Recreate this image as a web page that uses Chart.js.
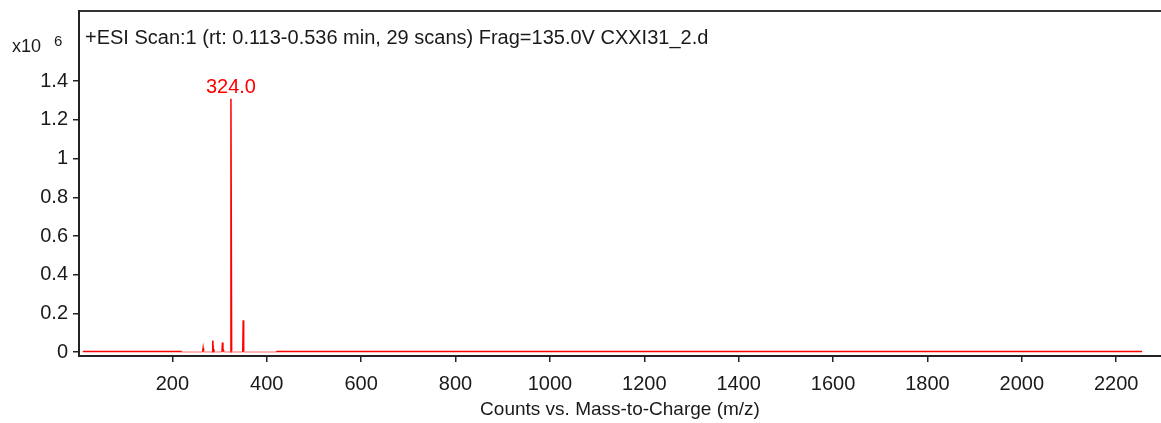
<!DOCTYPE html>
<html>
<head>
<meta charset="utf-8">
<script src="https://cdn.jsdelivr.net/npm/chart.js@4/dist/chart.umd.min.js"></script>
<style>
  html, body { margin: 0; padding: 0; background: #fff; }
  #wrap { width: 1161px; height: 423px; }
</style>
</head>
<body>
<div id="wrap"><canvas id="spectrum"></canvas></div>
<script>
// spectrum points (m/z, counts in 10^6)
const mzValues = [10, 220, 221, 264, 265, 266, 284.5, 285.5, 286.5, 288, 289, 305, 306, 307, 308.5, 309.5,
                  322.5, 324, 325.5, 349, 350, 351, 419, 420, 2255];
const counts   = [0.003, 0.003, 0.001, 0.001, 0.02, 0.001, 0.001, 0.06, 0.015, 0.01, 0.001, 0.001, 0.05, 0.015, 0.008, 0.001,
                  0.001, 1.31, 0.001, 0.001, 0.165, 0.001, 0.001, 0.003, 0.003];
const xTicks = [200, 400, 600, 800, 1000, 1200, 1400, 1600, 1800, 2000, 2200];
const yTicks = [0, 0.2, 0.4, 0.6, 0.8, 1, 1.2, 1.4];
const peakLabel = { mz: 324, counts: 1.31, text: "324.0" };
const titleText = "+ESI Scan:1 (rt: 0.113-0.536 min, 29 scans) Frag=135.0V CXXI31_2.d";
const xTitle = "Counts vs. Mass-to-Charge (m/z)";

const FONT = "'Liberation Sans', Arial, sans-serif";

const annotations = {
    id: "annotations",
    afterDraw(chart) {
        const ctx = chart.ctx;
        const x = chart.scales.x, y = chart.scales.y;
        ctx.save();
        ctx.fillStyle = "#1a1a1a";
        ctx.textBaseline = "alphabetic";
        ctx.textAlign = "left";
        ctx.font = "20px " + FONT;
        ctx.fillText(titleText, chart.chartArea.left + 6, 44);
        ctx.font = "18px " + FONT;
        ctx.fillText("x10", 12, 52);
        ctx.font = "15px " + FONT;
        ctx.fillText("6", 54, 46);
        // peak label
        ctx.fillStyle = "#ff0000";
        ctx.textAlign = "center";
        ctx.font = "20px " + FONT;
        ctx.fillText(peakLabel.text, x.getPixelForValue(peakLabel.mz), y.getPixelForValue(peakLabel.counts) - 6);
        ctx.restore();
    }
};

new Chart(document.getElementById("spectrum").getContext("2d"), {
    type: "line",
    data: {
        datasets: [{
            data: mzValues.map((m, i) => ({ x: m, y: counts[i] })),
            borderColor: "#ff0000",
            borderWidth: 1.5,
            pointRadius: 0,
            tension: 0,
            fill: false,
            segment: {
                borderColor: c => (c.p0.parsed.x >= 220 && c.p1.parsed.x <= 420 && c.p1.parsed.y < 0.005 && c.p0.parsed.y < 0.005) ? "#ff9a9a" : "#ff0000"
            }
        }]
    },
    plugins: [annotations],
    options: {
        responsive: true,
        maintainAspectRatio: false,
        animation: false,
        layout: { padding: { left: 0, right: 0, top: 11, bottom: 0 } },
        plugins: { legend: { display: false }, tooltip: { enabled: false } },
        scales: {
            x: {
                type: "linear",
                min: 2,
                max: 2295,
                afterBuildTicks: s => { s.ticks = xTicks.map(v => ({ value: v })); },
                grid: { drawOnChartArea: false, drawTicks: true, tickLength: 6, color: "#222", lineWidth: 1.5 },
                border: { display: true, color: "#222", width: 2 },
                ticks: { color: "#1a1a1a", font: { family: FONT, size: 20 }, maxRotation: 0, padding: 10, callback: v => String(v) },
                title: { display: true, text: xTitle, color: "#1a1a1a", font: { family: FONT, size: 19 }, padding: { top: 8, bottom: 2 } },
                afterFit: s => { s.height = 67; s.paddingLeft = 0; s.paddingRight = 0; }
            },
            xTop: {
                type: "linear",
                position: "top",
                min: 2,
                max: 2295,
                ticks: { display: false },
                grid: { display: false },
                border: { display: true, color: "#333", width: 2 },
                afterFit: s => { s.height = 0; }
            },
            y: {
                min: -0.02,
                max: 1.763,
                afterBuildTicks: s => { s.ticks = yTicks.map(v => ({ value: v })); },
                grid: { drawOnChartArea: false, drawTicks: true, tickLength: 6, color: "#222", lineWidth: 1.5 },
                border: { display: true, color: "#222", width: 2 },
                ticks: { color: "#1a1a1a", font: { family: FONT, size: 20 }, padding: 5, callback: v => String(v) },
                afterFit: s => { s.width = 79; s.paddingTop = 0; s.paddingBottom = 0; }
            }
        }
    }
});
</script>
</body>
</html>
